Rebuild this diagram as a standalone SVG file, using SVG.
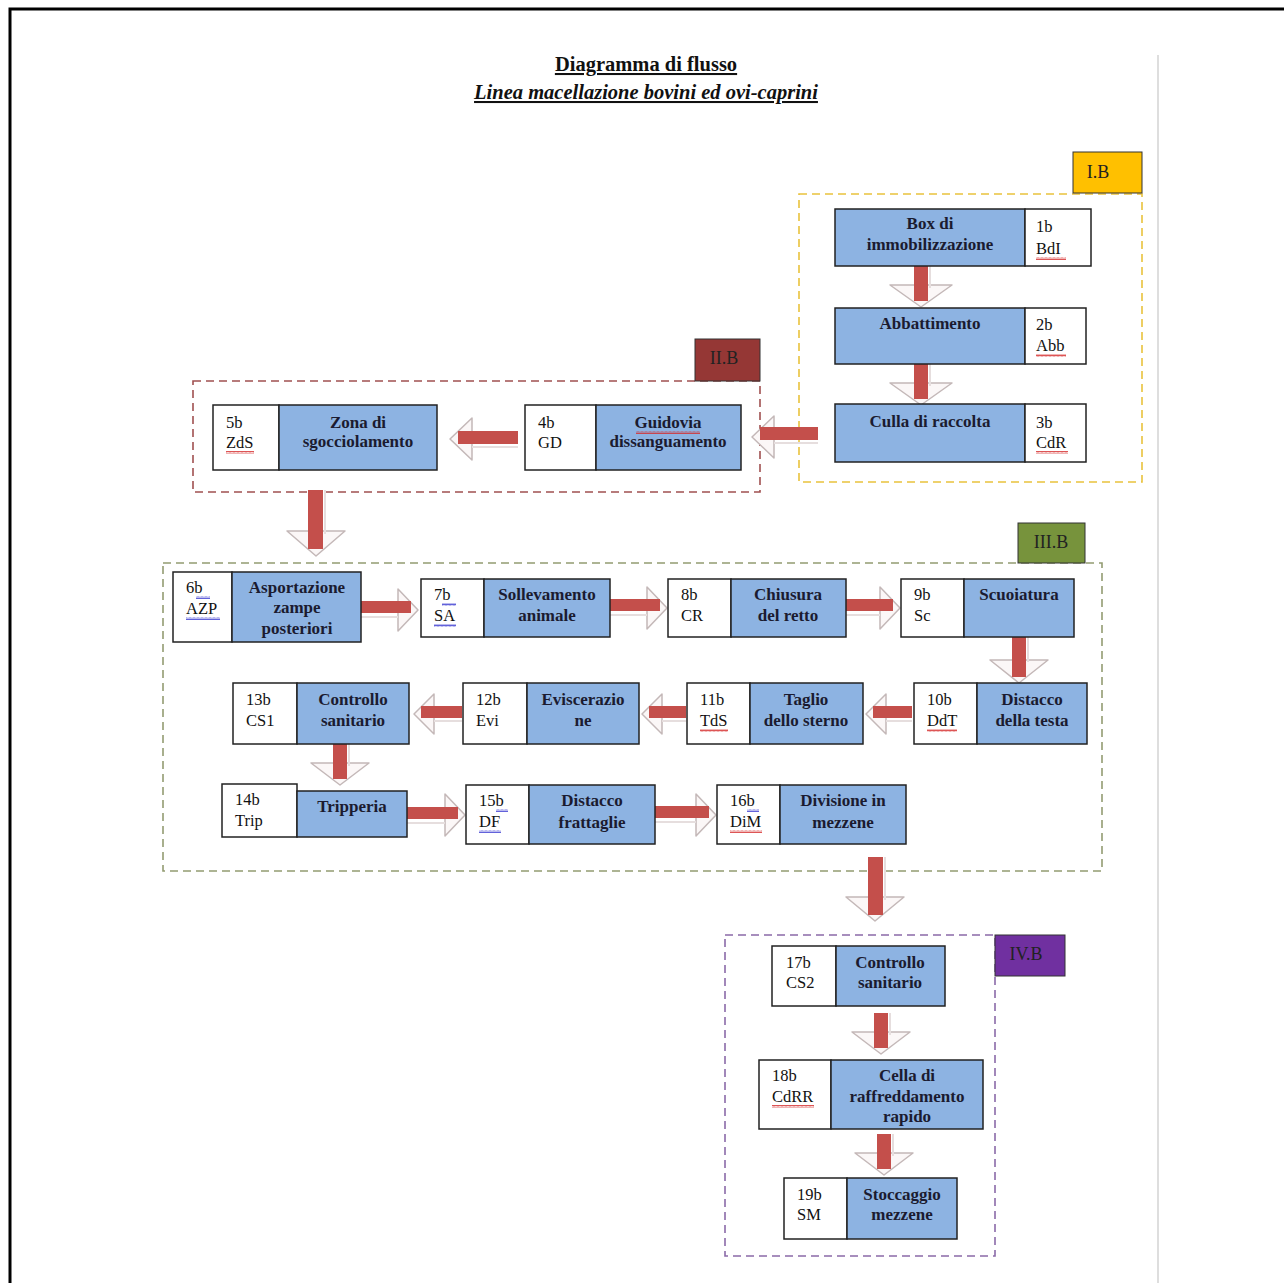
<svg xmlns="http://www.w3.org/2000/svg" width="1284" height="1283" viewBox="0 0 1284 1283">
<style>
.bg{fill:#ffffff}
.blue{fill:#8db3e2;stroke:#222;stroke-width:1.5}
.white{fill:#ffffff;stroke:#222;stroke-width:1.5}
.lbl{font-family:"Liberation Serif",serif;font-weight:bold;font-size:17px;fill:#1b1b30;text-anchor:middle}
.code{font-family:"Liberation Serif",serif;font-size:16.5px;fill:#111}
.ttl{font-family:"Liberation Serif",serif;font-weight:bold;font-size:20.5px;fill:#111;text-anchor:middle;text-decoration:underline}
.reg{font-family:"Liberation Serif",serif;font-size:18px;fill:#222;text-anchor:middle}
.dash{fill:none;stroke-width:1.6;stroke-dasharray:8 5}
.shaft{fill:#c44f4b}
.head{fill:#fbf7f7;stroke:#c4b8b8;stroke-width:1.5;stroke-linejoin:round}
.hl{stroke:#e6dede;stroke-width:2}
.wr{fill:url(#wavR)}
.wb{fill:url(#wavB)}
</style>
<defs>
<pattern id="wavR" width="4" height="3" patternUnits="userSpaceOnUse"><path d="M0,2.5 L1,0.5 L2,2.5 L3,0.5 L4,2.5" stroke="#d42a2a" fill="none" stroke-width="0.8"/></pattern>
<pattern id="wavB" width="4" height="3" patternUnits="userSpaceOnUse"><path d="M0,2.5 L1,0.5 L2,2.5 L3,0.5 L4,2.5" stroke="#3a3ad0" fill="none" stroke-width="0.8"/></pattern>
</defs>
<rect class="bg" x="0" y="0" width="1284" height="1283"/>
<path d="M10,1283 V9 H1284" fill="none" stroke="#000" stroke-width="3"/>
<line x1="1158" y1="55" x2="1158" y2="1283" stroke="#dedede" stroke-width="2"/>

<g id="title">
<text class="ttl" x="646" y="71">Diagramma di flusso</text>
<text class="ttl" x="646" y="99" font-style="italic">Linea macellazione bovini ed ovi-caprini</text>
</g>

<g id="regions">
<rect class="dash" x="799" y="194" width="343" height="288" stroke="#e9c23c"/>
<rect class="dash" x="193" y="381" width="567" height="111" stroke="#a05050"/>
<rect class="dash" x="163" y="563" width="939" height="308" stroke="#939c72"/>
<rect class="dash" x="725" y="935" width="270" height="321" stroke="#8a6aa8"/>
</g>
<g id="label-IB"><rect x="1073" y="152" width="69" height="41" fill="#ffc000" stroke="#333" stroke-width="1"/><text class="reg" x="1098" y="178">I.B</text></g>
<g id="label-IIB"><rect x="695" y="339" width="65" height="42" fill="#953735" stroke="#333" stroke-width="1"/><text class="reg" x="724" y="364">II.B</text></g>
<g id="label-IIIB"><rect x="1018" y="523" width="67" height="40" fill="#77933c" stroke="#333" stroke-width="1"/><text class="reg" x="1051" y="548">III.B</text></g>
<g id="label-IVB"><rect x="995" y="935" width="70" height="41" fill="#7030a0" stroke="#333" stroke-width="1"/><text class="reg" x="1026" y="960">IV.B</text></g>

<g id="connectors">
<polygon class="head" points="890,285 952,285 921,307"/><rect class="shaft" x="914" y="266" width="14" height="35"/><line class="hl" x1="930" y1="266" x2="930" y2="288"/>
<polygon class="head" points="890,383 952,383 921,405"/><rect class="shaft" x="914" y="364" width="14" height="35"/><line class="hl" x1="930" y1="364" x2="930" y2="386"/>
<polygon class="head" points="287,531 345,531 316,556"/><rect class="shaft" x="308" y="490" width="15" height="59"/><line class="hl" x1="325" y1="490" x2="325" y2="534"/>
<polygon class="head" points="990,660 1048,660 1019,683"/><rect class="shaft" x="1012" y="637" width="14" height="40"/><line class="hl" x1="1028" y1="637" x2="1028" y2="662"/>
<polygon class="head" points="311,763 369,763 340,785"/><rect class="shaft" x="333" y="744" width="14" height="35"/><line class="hl" x1="349" y1="744" x2="349" y2="766"/>
<polygon class="head" points="846,897 904,897 875,921"/><rect class="shaft" x="868" y="857" width="15" height="58"/><line class="hl" x1="885" y1="857" x2="885" y2="900"/>
<polygon class="head" points="852,1032 910,1032 881,1054"/><rect class="shaft" x="874" y="1013" width="14" height="35"/><line class="hl" x1="890" y1="1013" x2="890" y2="1035"/>
<polygon class="head" points="855,1153 913,1153 884,1175"/><rect class="shaft" x="877" y="1134" width="14" height="35"/><line class="hl" x1="893" y1="1134" x2="893" y2="1156"/>
<polygon class="head" points="774,416 774,458 752,437"/><rect class="shaft" x="760" y="427" width="58" height="13"/><line class="hl" x1="774" y1="443" x2="818" y2="443"/>
<polygon class="head" points="472,418 472,460 450,439"/><rect class="shaft" x="458" y="431" width="60" height="13"/><line class="hl" x1="472" y1="447" x2="518" y2="447"/>
<polygon class="head" points="886,694 886,734 866,714"/><rect class="shaft" x="873" y="706" width="39" height="12"/><line class="hl" x1="886" y1="721" x2="912" y2="721"/>
<polygon class="head" points="662,694 662,734 642,714"/><rect class="shaft" x="649" y="706" width="37" height="12"/><line class="hl" x1="662" y1="721" x2="686" y2="721"/>
<polygon class="head" points="434,694 434,734 414,714"/><rect class="shaft" x="421" y="706" width="41" height="12"/><line class="hl" x1="434" y1="721" x2="462" y2="721"/>
<polygon class="head" points="398,589 398,631 418,610"/><rect class="shaft" x="361" y="601" width="50" height="12"/><line class="hl" x1="361" y1="617" x2="398" y2="617"/>
<polygon class="head" points="647,587 647,629 667,608"/><rect class="shaft" x="610" y="599" width="50" height="12"/><line class="hl" x1="610" y1="615" x2="647" y2="615"/>
<polygon class="head" points="880,587 880,629 900,608"/><rect class="shaft" x="846" y="599" width="47" height="12"/><line class="hl" x1="846" y1="615" x2="880" y2="615"/>
<polygon class="head" points="445,794 445,836 465,815"/><rect class="shaft" x="407" y="807" width="51" height="12"/><line class="hl" x1="407" y1="823" x2="445" y2="823"/>
<polygon class="head" points="696,794 696,836 716,815"/><rect class="shaft" x="655" y="806" width="54" height="12"/><line class="hl" x1="655" y1="822" x2="696" y2="822"/>
</g>

<g id="n1b"><rect class="blue" x="835" y="209" width="190" height="57"/><rect class="white" x="1025" y="209" width="66" height="57"/>
<text class="lbl" x="930" y="229">Box di</text><text class="lbl" x="930" y="250">immobilizzazione</text>
<text class="code" x="1036" y="232">1b</text><text class="code" x="1036" y="254">BdI</text><rect class="wr" x="1036" y="257" width="30" height="3"/></g>

<g id="n2b"><rect class="blue" x="835" y="308" width="190" height="56"/><rect class="white" x="1025" y="308" width="61" height="56"/>
<text class="lbl" x="930" y="329">Abbattimento</text>
<text class="code" x="1036" y="330">2b</text><text class="code" x="1036" y="351">Abb</text><rect class="wr" x="1036" y="354" width="30" height="3"/></g>

<g id="n3b"><rect class="blue" x="835" y="404" width="190" height="58"/><rect class="white" x="1025" y="404" width="61" height="58"/>
<text class="lbl" x="930" y="427">Culla di raccolta</text>
<text class="code" x="1036" y="428">3b</text><text class="code" x="1036" y="448">CdR</text><rect class="wr" x="1036" y="451" width="32" height="3"/></g>

<g id="n4b"><rect class="white" x="525" y="405" width="71" height="65"/><rect class="blue" x="596" y="405" width="145" height="65"/>
<text class="code" x="538" y="428">4b</text><text class="code" x="538" y="448">GD</text>
<text class="lbl" x="668" y="428">Guidovia</text><text class="lbl" x="668" y="447">dissanguamento</text><rect class="wr" x="636" y="431" width="64" height="3"/></g>

<g id="n5b"><rect class="white" x="213" y="405" width="66" height="65"/><rect class="blue" x="279" y="405" width="158" height="65"/>
<text class="code" x="226" y="428">5b</text><text class="code" x="226" y="448">ZdS</text><rect class="wr" x="226" y="451" width="28" height="3"/>
<text class="lbl" x="358" y="428">Zona di</text><text class="lbl" x="358" y="447">sgocciolamento</text></g>

<g id="n6b"><rect class="white" x="173" y="572" width="59" height="70"/><rect class="blue" x="232" y="572" width="129" height="70"/>
<text class="code" x="186" y="593">6b</text><rect class="wb" x="196" y="596" width="14" height="3"/><text class="code" x="186" y="614">AZP</text><rect class="wb" x="186" y="617" width="34" height="3"/>
<text class="lbl" x="297" y="593">Asportazione</text><text class="lbl" x="297" y="613">zampe</text><text class="lbl" x="297" y="634">posteriori</text></g>

<g id="n7b"><rect class="white" x="421" y="579" width="63" height="58"/><rect class="blue" x="484" y="579" width="126" height="58"/>
<text class="code" x="434" y="600">7b</text><rect class="wb" x="442" y="603" width="14" height="3"/><text class="code" x="434" y="621">SA</text><rect class="wb" x="434" y="624" width="22" height="3"/>
<text class="lbl" x="547" y="600">Sollevamento</text><text class="lbl" x="547" y="621">animale</text></g>

<g id="n8b"><rect class="white" x="668" y="579" width="63" height="58"/><rect class="blue" x="731" y="579" width="115" height="58"/>
<text class="code" x="681" y="600">8b</text><text class="code" x="681" y="621">CR</text>
<text class="lbl" x="788" y="600">Chiusura</text><text class="lbl" x="788" y="621">del retto</text></g>

<g id="n9b"><rect class="white" x="901" y="579" width="63" height="58"/><rect class="blue" x="964" y="579" width="110" height="58"/>
<text class="code" x="914" y="600">9b</text><text class="code" x="914" y="621">Sc</text>
<text class="lbl" x="1019" y="600">Scuoiatura</text></g>

<g id="n10b"><rect class="white" x="914" y="683" width="63" height="61"/><rect class="blue" x="977" y="683" width="110" height="61"/>
<text class="code" x="927" y="705">10b</text><text class="code" x="927" y="726">DdT</text><rect class="wr" x="927" y="729" width="30" height="3"/>
<text class="lbl" x="1032" y="705">Distacco</text><text class="lbl" x="1032" y="726">della testa</text></g>

<g id="n11b"><rect class="white" x="687" y="683" width="63" height="61"/><rect class="blue" x="750" y="683" width="113" height="61"/>
<text class="code" x="700" y="705">11b</text><text class="code" x="700" y="726">TdS</text><rect class="wr" x="700" y="729" width="28" height="3"/>
<text class="lbl" x="806" y="705">Taglio</text><text class="lbl" x="806" y="726">dello sterno</text></g>

<g id="n12b"><rect class="white" x="463" y="683" width="64" height="61"/><rect class="blue" x="527" y="683" width="112" height="61"/>
<text class="code" x="476" y="705">12b</text><text class="code" x="476" y="726">Evi</text>
<text class="lbl" x="583" y="705">Eviscerazio</text><text class="lbl" x="583" y="726">ne</text></g>

<g id="n13b"><rect class="white" x="233" y="683" width="64" height="61"/><rect class="blue" x="297" y="683" width="112" height="61"/>
<text class="code" x="246" y="705">13b</text><text class="code" x="246" y="726">CS1</text>
<text class="lbl" x="353" y="705">Controllo</text><text class="lbl" x="353" y="726">sanitario</text></g>

<g id="n14b"><rect class="white" x="222" y="784" width="75" height="53"/><rect class="blue" x="297" y="791" width="110" height="46"/>
<text class="code" x="235" y="805">14b</text><text class="code" x="235" y="826">Trip</text>
<text class="lbl" x="352" y="812">Tripperia</text></g>

<g id="n15b"><rect class="white" x="466" y="785" width="63" height="59"/><rect class="blue" x="529" y="785" width="126" height="59"/>
<text class="code" x="479" y="806">15b</text><rect class="wb" x="496" y="809" width="12" height="3"/><text class="code" x="479" y="827">DF</text><rect class="wb" x="479" y="830" width="22" height="3"/>
<text class="lbl" x="592" y="806">Distacco</text><text class="lbl" x="592" y="828">frattaglie</text></g>

<g id="n16b"><rect class="white" x="717" y="785" width="63" height="59"/><rect class="blue" x="780" y="785" width="126" height="59"/>
<text class="code" x="730" y="806">16b</text><rect class="wb" x="747" y="809" width="12" height="3"/><text class="code" x="730" y="827">DiM</text><rect class="wr" x="730" y="830" width="32" height="3"/>
<text class="lbl" x="843" y="806">Divisione in</text><text class="lbl" x="843" y="828">mezzene</text></g>

<g id="n17b"><rect class="white" x="772" y="946" width="64" height="60"/><rect class="blue" x="836" y="946" width="109" height="60"/>
<text class="code" x="786" y="968">17b</text><text class="code" x="786" y="988">CS2</text>
<text class="lbl" x="890" y="968">Controllo</text><text class="lbl" x="890" y="988">sanitario</text></g>

<g id="n18b"><rect class="white" x="759" y="1060" width="72" height="69"/><rect class="blue" x="831" y="1060" width="152" height="69"/>
<text class="code" x="772" y="1081">18b</text><text class="code" x="772" y="1102">CdRR</text><rect class="wr" x="772" y="1105" width="42" height="3"/>
<text class="lbl" x="907" y="1081">Cella di</text><text class="lbl" x="907" y="1102">raffreddamento</text><text class="lbl" x="907" y="1122">rapido</text></g>

<g id="n19b"><rect class="white" x="784" y="1178" width="63" height="61"/><rect class="blue" x="847" y="1178" width="110" height="61"/>
<text class="code" x="797" y="1200">19b</text><text class="code" x="797" y="1220">SM</text>
<text class="lbl" x="902" y="1200">Stoccaggio</text><text class="lbl" x="902" y="1220">mezzene</text></g>
</svg>
